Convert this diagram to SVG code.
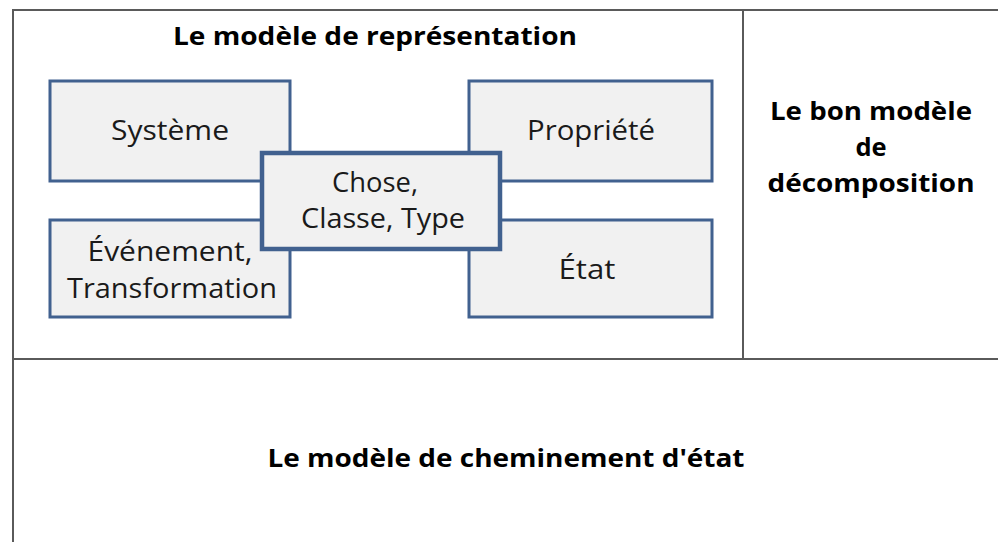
<svg xmlns="http://www.w3.org/2000/svg" width="998" height="542" viewBox="0 0 998 542">
<style>
.frame{stroke:#5a5a5a;stroke-width:2;fill:none}
.box{fill:#f1f1f1;stroke:#41618f;stroke-width:3}
.boxc{fill:#f1f1f1;stroke:#41618f;stroke-width:4.5}
.t{font-family:"Open Sans","Liberation Sans",sans-serif;font-size:26.5px;fill:#1a1a1a;text-anchor:middle}
.h{font-family:"Open Sans","Liberation Sans",sans-serif;font-size:25.5px;font-weight:bold;fill:#000;text-anchor:middle}
</style>
<rect width="998" height="542" fill="#fff"/>
<g id="frame">
<path class="frame" d="M998 10 H13 V542"/>
<path class="frame" d="M13 359 H998"/>
<path class="frame" d="M743 10 V359"/>
</g>
<g id="title"><text class="h" x="375" y="45" textLength="404" lengthAdjust="spacingAndGlyphs">Le modèle de représentation</text></g>
<g id="decomp">
<text class="h" x="871" y="120" textLength="202" lengthAdjust="spacingAndGlyphs">Le bon modèle</text>
<text class="h" x="871" y="156">de</text>
<text class="h" x="871" y="192" textLength="207" lengthAdjust="spacingAndGlyphs">décomposition</text>
</g>
<g id="cheminement"><text class="h" x="506" y="467" textLength="477" lengthAdjust="spacingAndGlyphs">Le modèle de cheminement d'état</text></g>
<g id="connectors"></g>
<g id="systeme"><rect class="box" x="50" y="81" width="240" height="100"/><text class="t" x="170" y="140" textLength="118" lengthAdjust="spacingAndGlyphs">Système</text></g>
<g id="evenement"><rect class="box" x="50" y="220" width="240" height="97"/><text class="t" x="170" y="261" textLength="165" lengthAdjust="spacingAndGlyphs">Événement,</text><text class="t" x="172" y="298" textLength="210" lengthAdjust="spacingAndGlyphs">Transformation</text></g>
<g id="propriete"><rect class="box" x="469" y="81" width="243" height="100"/><text class="t" x="591" y="140" textLength="128" lengthAdjust="spacingAndGlyphs">Propriété</text></g>
<g id="etat"><rect class="box" x="469" y="220" width="243" height="97"/><text class="t" x="587" y="279" textLength="57" lengthAdjust="spacingAndGlyphs">État</text></g>
<g id="chose"><rect class="boxc" x="262" y="153" width="238" height="96"/><text class="t" x="375" y="192" textLength="86" lengthAdjust="spacingAndGlyphs">Chose,</text><text class="t" x="383" y="228" textLength="164" lengthAdjust="spacingAndGlyphs">Classe, Type</text></g>
</svg>
